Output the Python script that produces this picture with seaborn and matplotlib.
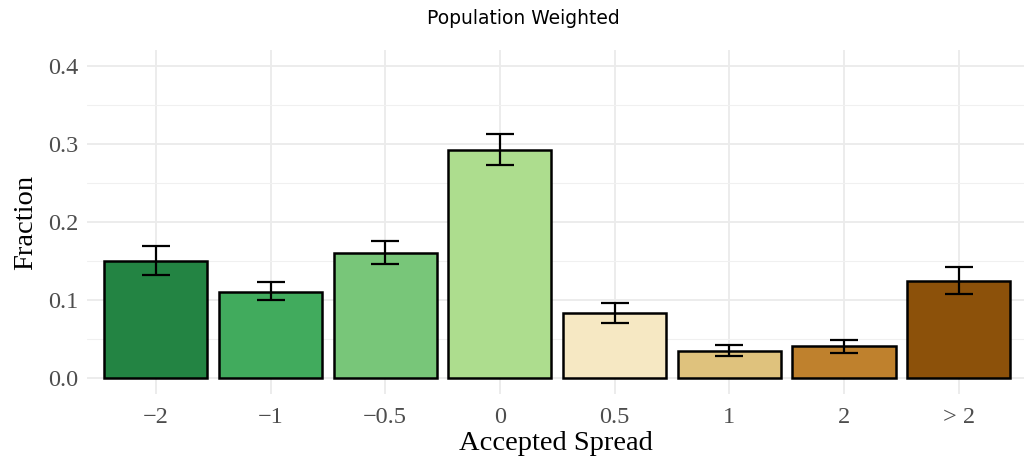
import matplotlib
matplotlib.use("Agg")
import matplotlib.pyplot as plt
import numpy as np
import pandas as pd
import seaborn as sns
from matplotlib.ticker import MultipleLocator, FormatStrFormatter

# Data
categories = ["\u22122", "\u22121", "\u22120.5", "0", "0.5", "1", "2", "> 2"]
fraction = [0.150, 0.110, 0.160, 0.292, 0.083, 0.035, 0.041, 0.124]
ci_low = [0.132, 0.100, 0.146, 0.273, 0.071, 0.028, 0.032, 0.108]
ci_high = [0.169, 0.123, 0.176, 0.313, 0.096, 0.042, 0.049, 0.142]
colors = ["#238443", "#41ab5d", "#78c679", "#addd8e",
          "#f6e8c3", "#dfc27d", "#bf812d", "#8c510a"]

df = pd.DataFrame({"spread": categories, "fraction": fraction})

sns.set_theme(style="whitegrid")
serif = ["Liberation Serif", "DejaVu Serif"]

fig = plt.figure(figsize=(10.24, 4.58), dpi=100)
ax = fig.add_axes([87 / 1024, 1 - 393.6 / 458, (1024 - 87) / 1024, (393.6 - 50.4) / 458])

sns.barplot(data=df, x="spread", y="fraction", hue="spread", palette=colors,
            legend=False, width=0.9, edgecolor="black", linewidth=1.8,
            saturation=1, ax=ax)

# Error bars
lo = np.array(fraction) - np.array(ci_low)
hi = np.array(ci_high) - np.array(fraction)
ax.errorbar(np.arange(len(categories)), fraction, yerr=[lo, hi], fmt="none",
            ecolor="black", elinewidth=1.6, capsize=10, capthick=1.6, zorder=5)

ax.set_xlim(-0.6, 7.57)
ax.set_ylim(-0.02, 0.42)
ax.yaxis.set_major_locator(MultipleLocator(0.1))
ax.yaxis.set_minor_locator(MultipleLocator(0.05))
ax.yaxis.set_major_formatter(FormatStrFormatter("%.1f"))

ax.set_axisbelow(True)
ax.grid(True, which="major", color="#ebebeb", linewidth=1.3)
ax.grid(True, which="minor", axis="y", color="#f0f0f0", linewidth=0.8)
for s in ax.spines.values():
    s.set_visible(False)
ax.tick_params(axis="both", which="both", length=0, colors="#4d4d4d",
               labelsize=17.5)
ax.tick_params(axis="x", pad=10)
ax.tick_params(axis="y", pad=6)
for lab in ax.get_xticklabels() + ax.get_yticklabels():
    lab.set_family(serif)

ax.set_xlabel("Accepted Spread", family=serif, fontsize=20.5, color="black", labelpad=2)
ax.set_ylabel("Fraction", family=serif, fontsize=20.5, color="black", labelpad=7)

fig.text(523 / 1024, 1 - 18 / 458, "Population Weighted", ha="center", va="center",
         fontsize=13.5, family=["DejaVu Sans"], color="black")

fig.savefig("out.png", dpi=100, facecolor="white")
